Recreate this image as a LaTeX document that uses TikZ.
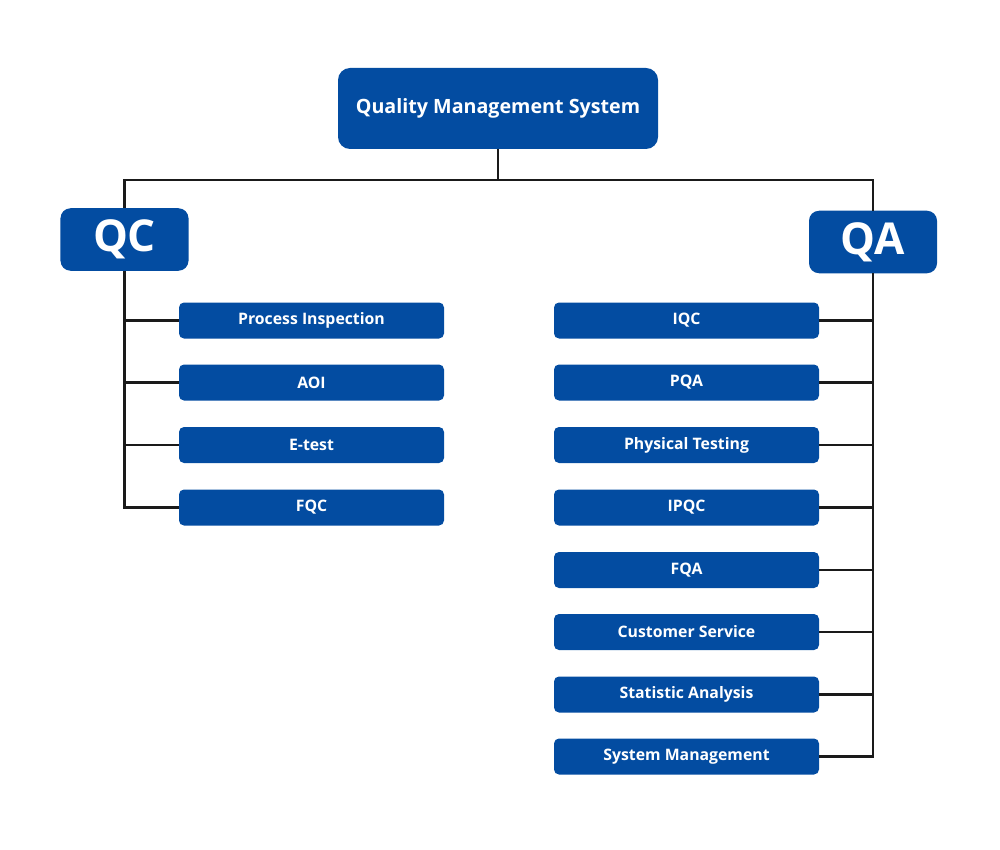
\documentclass[tikz,border=0pt]{standalone}
\usepackage{fontspec}
\setmainfont{Open Sans}
\usetikzlibrary{positioning}
\definecolor{qblue}{HTML}{034CA1}
\definecolor{qline}{HTML}{1A1A1A}
\begin{document}
\begin{tikzpicture}[
    x=0.2mm, y=-0.2mm,
    every node/.style={text=white, inner sep=0pt, outer sep=0pt},
    topbox/.style={
      fill=qblue, rounded corners=2.4mm,
      minimum width=64mm, minimum height=16.2mm,
      font=\fontsize{11.2}{13}\selectfont\bfseries,
    },
    groupbox/.style={
      fill=qblue, rounded corners=2mm,
      minimum width=25.6mm, minimum height=12.5mm,
      font=\fontsize{25}{28}\selectfont\bfseries,
    },
    itembox/.style={
      fill=qblue, rounded corners=1mm,
      minimum width=53mm, minimum height=7.2mm,
      font=\fontsize{9}{11}\selectfont\bfseries,
    },
    link/.style={draw=qline, line width=1.4pt},
  ]
\useasboundingbox (0,0) rectangle (1000,850);
% --- column x-positions
\def\cL{311.5}
\def\cR{686.5}

% Top level
\node[topbox] (qms) at (498,108.5) {Quality Management System};
\coordinate (bus) at (498,180);

% Groups
\node[groupbox] (qc) at (124.5,239.5) {QC};
\node[groupbox] (qa) at (873,242) {QA};

% QC items
\node[itembox] (proc) at (\cL,320.5) {Process Inspection};
\node[itembox] (aoi)  at (\cL,382.5) {AOI};
\node[itembox] (etest) at (\cL,445) {E-test};
\node[itembox] (fqc)  at (\cL,507.5) {FQC};

% QA items
\node[itembox] (iqc)   at (\cR,320.5) {IQC};
\node[itembox] (pqa)   at (\cR,382.5) {PQA};
\node[itembox] (phys)  at (\cR,445)   {Physical Testing};
\node[itembox] (ipqc)  at (\cR,507.5) {IPQC};
\node[itembox] (fqa)   at (\cR,570)   {FQA};
\node[itembox] (cserv) at (\cR,632)   {Customer Service};
\node[itembox] (stat)  at (\cR,694.5) {Statistic Analysis};
\node[itembox] (sysm)  at (\cR,756.5) {System Management};

% --- connectors
\draw[link] (qms.south) -- (bus);
\draw[link] (qc.north) |- (bus) -| (qa.north);

\draw[link] (qc.south) |- (fqc.west);
\foreach \n in {proc,aoi,etest}
  \draw[link] (qc.south |- \n.west) -- (\n.west);

\draw[link] (qa.south) |- (sysm.east);
\foreach \n in {iqc,pqa,phys,ipqc,fqa,cserv,stat}
  \draw[link] (qa.south |- \n.east) -- (\n.east);
\end{tikzpicture}
\end{document}
